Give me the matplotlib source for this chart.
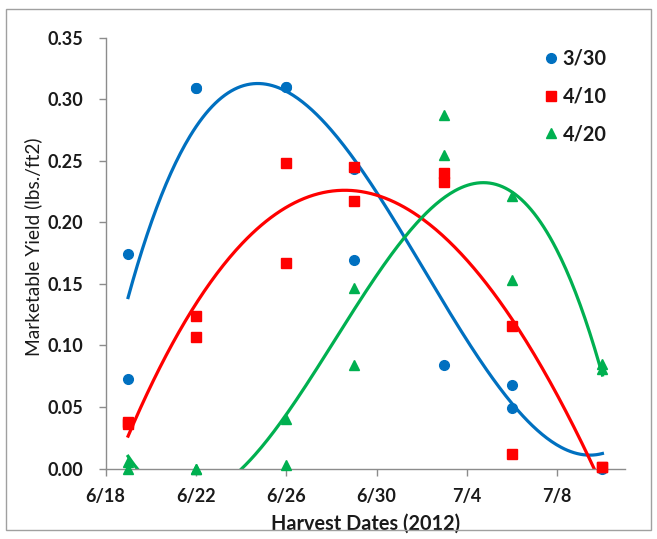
import numpy as np
import pandas as pd
import matplotlib
matplotlib.use("Agg")
import matplotlib.pyplot as plt
import matplotlib.dates as mdates
from matplotlib.patches import Rectangle

plt.rcParams['font.family'] = ['Lato', 'DejaVu Sans']

# ---- data (replicates per harvest date; some are hidden under other marks) ----
blue_dates = ["6/19", "6/19", "6/22", "6/22", "6/26", "6/26", "6/29", "6/29",
              "7/3", "7/3", "7/6", "7/6", "7/10"]
blue_vals = [0.174, 0.073, 0.309, 0.309, 0.310, 0.310, 0.243, 0.169,
             0.084, 0.236, 0.068, 0.049, 0.000]

red_dates = ["6/19", "6/19", "6/22", "6/22", "6/26", "6/26", "6/29", "6/29",
             "7/3", "7/3", "7/6", "7/6", "7/10", "7/10"]
red_vals = [0.038, 0.036, 0.124, 0.107, 0.248, 0.167, 0.245, 0.217,
            0.240, 0.233, 0.116, 0.012, 0.001, 0.001]

green_dates = ["6/19", "6/19", "6/22", "6/22", "6/26", "6/26", "6/29", "6/29",
               "7/3", "7/3", "7/6", "7/6", "7/10", "7/10"]
green_vals = [0.005, 0.000, 0.000, 0.000, 0.040, 0.003, 0.147, 0.084,
              0.287, 0.255, 0.221, 0.153, 0.085, 0.081]

series_labels = ["3/30", "4/10", "4/20"]
x_ticks = ["6/18", "6/22", "6/26", "6/30", "7/4", "7/8"]
y_ticks = [0.00, 0.05, 0.10, 0.15, 0.20, 0.25, 0.30, 0.35]


def to_num(ds):
    return mdates.date2num(pd.to_datetime([d + "/2012" for d in ds], format="%m/%d/%Y"))


colors = ["#0070C0", "#FF0000", "#00B050"]
markers = ["o", "s", "^"]
msizes = [7, 7, 7.5]
zorders = [3, 4, 5]

fig = plt.figure(figsize=(6.57, 5.39), dpi=100)
ax = fig.add_axes([105.5 / 657, 1 - 468.5 / 539, (625 - 105.5) / 657, (468.5 - 37.7) / 539])

xs_all = [to_num(blue_dates), to_num(red_dates), to_num(green_dates)]
ys_all = [blue_vals, red_vals, green_vals]

x_start = to_num(["6/19"])[0]
x_end = to_num(["7/10"])[0]
xx = np.linspace(x_start, x_end, 300)

for xs, ys, c, m, ms, lab, zo in zip(xs_all, ys_all, colors, markers, msizes, series_labels, zorders):
    ax.plot(xs, ys, linestyle="none", marker=m, color=c, markersize=ms, label=lab,
            zorder=zo, clip_on=False)
    coef = np.polyfit(xs - x_start, ys, 3)
    ax.plot(xx, np.polyval(coef, xx - x_start), color=c, linewidth=2.3, zorder=2)

xt = to_num(x_ticks)
ax.set_xlim(xt[0], to_num(["7/11"])[0])
ax.set_ylim(0, 0.35)
ax.set_xticks(xt)
ax.set_xticklabels(x_ticks)
ax.set_yticks(y_ticks)
ax.set_yticklabels([f"{v:.2f}" for v in y_ticks])

for s in ["top", "right"]:
    ax.spines[s].set_visible(False)
for s in ["left", "bottom"]:
    ax.spines[s].set_color("#8c8c8c")
    ax.spines[s].set_linewidth(1.0)
ax.tick_params(axis="both", direction="out", length=5, color="#8c8c8c", width=1.0,
               labelsize=13, labelcolor="#1a1a1a")
ax.tick_params(axis="x", pad=9)
ax.tick_params(axis="y", pad=11)
for t in ax.get_xticklabels() + ax.get_yticklabels():
    t.set_fontweight("bold")

ax.set_xlabel("Harvest Dates (2012)", fontsize=14.3, fontweight="bold", color="#1a1a1a", labelpad=6)
ax.set_ylabel("Marketable Yield (lbs./ft2)", fontsize=13.8, color="#1a1a1a")
ax.yaxis.set_label_coords(-0.122, 0.514)

leg = ax.legend(loc="upper right", bbox_to_anchor=(0.999, 1.016), frameon=False, fontsize=14.3,
                handletextpad=0.0, labelspacing=0.9, handlelength=1.2, markerscale=1.0)
for t in leg.get_texts():
    t.set_fontweight("bold")
    t.set_color("#1a1a1a")

fig.patches.append(Rectangle((6 / 657, 1 - 530 / 539), (651 - 6) / 657, (530 - 9) / 539,
                             transform=fig.transFigure, fill=False, edgecolor="#a0a0a0",
                             linewidth=1.0))

fig.savefig("out.png", dpi=100)
